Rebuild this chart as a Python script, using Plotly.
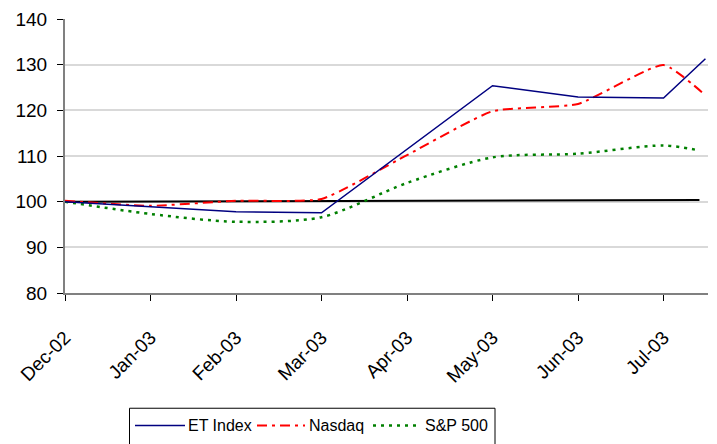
import plotly.graph_objects as go

# ---- data ----
month_labels = ["Dec-02", "Jan-03", "Feb-03", "Mar-03", "Apr-03", "May-03", "Jun-03", "Jul-03"]
month_pos = [0, 1, 2, 3, 4, 5, 6, 7]

et_x = [0, 1, 2, 3, 4, 5, 6, 7, 7.49]
et_index = [100.0, 98.9, 97.8, 97.55, 111.4, 125.4, 122.9, 122.7, 131.3]

nasdaq_x = [0, 1, 2, 3, 4, 5, 6, 7, 7.49]
nasdaq = [100.2, 99.1, 100.2, 100.6, 110.2, 119.8, 121.4, 129.9, 123.3]

sp_x = [0, 1, 2, 3, 4, 5, 6, 7, 7.42]
sp500 = [100.0, 97.3, 95.6, 96.6, 104.1, 109.7, 110.5, 112.3, 111.2]

base_x = [0, 1, 2, 3, 4, 5, 6, 7, 7.42]
baseline = [100.0, 100.05, 100.1, 100.1, 100.15, 100.2, 100.25, 100.3, 100.35]

legend_names = ["ET Index", "Nasdaq", "S&P 500"]

# ---- styles ----
FONT = "Liberation Sans, Arial, sans-serif"
W, H = 717, 444
ML, MR, MT, MB = 65, 9, 16, 151
PW, PH = W - ML - MR, H - MT - MB

fig = go.Figure()
fig.add_trace(go.Scatter(x=base_x, y=baseline, mode="lines", showlegend=False,
                         line=dict(color="#000000", width=2), hoverinfo="skip"))
fig.add_trace(go.Scatter(x=sp_x, y=sp500, mode="lines", name=legend_names[2], showlegend=False,
                         line=dict(color="#008000", width=2.5, dash="3px,5px", shape="spline", smoothing=0.8)))
fig.add_trace(go.Scatter(x=nasdaq_x, y=nasdaq, mode="lines", name=legend_names[1], showlegend=False,
                         line=dict(color="#ff0000", width=2, dash="10px,5px,3px,5px", shape="spline", smoothing=0.5)))
fig.add_trace(go.Scatter(x=et_x, y=et_index, mode="lines", name=legend_names[0], showlegend=False,
                         line=dict(color="#000080", width=1.5)))

fig.update_layout(
    width=W, height=H,
    margin=dict(l=ML, r=MR, t=MT, b=MB),
    paper_bgcolor="white", plot_bgcolor="white",
    font=dict(family=FONT, size=19, color="black"),
    showlegend=False,
)
fig.update_xaxes(
    range=[0, 7.52], tickmode="array", tickvals=month_pos, ticktext=month_labels,
    tickangle=-45, ticks="outside", ticklen=6, tickwidth=1, tickcolor="#000000",
    showline=True, linecolor="#808080", linewidth=2, showgrid=False, zeroline=False,
    tickfont=dict(size=19), ticklabelstandoff=18,
)
fig.update_yaxes(
    range=[80, 140], tickvals=[80, 90, 100, 110, 120, 130, 140],
    ticks="outside", ticklen=6, tickwidth=1, tickcolor="#000000",
    showline=True, linecolor="#808080", linewidth=2,
    showgrid=True, gridcolor="#d9d9d9", gridwidth=2, zeroline=False,
    tickfont=dict(size=19), ticklabelstandoff=6,
)

# ---- custom legend (pixel -> paper conversion) ----
def px(xp):
    return (xp - ML) / PW

def py(yp):
    return (H - MB - yp) / PH

fig.add_shape(type="rect", xref="paper", yref="paper",
              x0=px(129.5), x1=px(495), y0=py(409.5), y1=py(460),
              line=dict(color="#000000", width=1), fillcolor="white", layer="above")

legend_items = [
    (135, 185, 187, "#000080", 1.5, "solid"),
    (257, 305, 308, "#ff0000", 2, "10px,5px,3px,5px"),
    (373, 421, 424, "#008000", 2.5, "3px,5px"),
]
for (x0, x1, tx, col, wd, ds), name in zip(legend_items, legend_names):
    fig.add_shape(type="line", xref="paper", yref="paper",
                  x0=px(x0), x1=px(x1), y0=py(427), y1=py(427),
                  line=dict(color=col, width=wd, dash=ds), layer="above")
    fig.add_annotation(xref="paper", yref="paper", x=px(tx), y=py(426.5),
                       xanchor="left", yanchor="middle", showarrow=False,
                       text=name, font=dict(family=FONT, size=16, color="black"),
                       borderpad=0)

fig.write_html("out.html")
